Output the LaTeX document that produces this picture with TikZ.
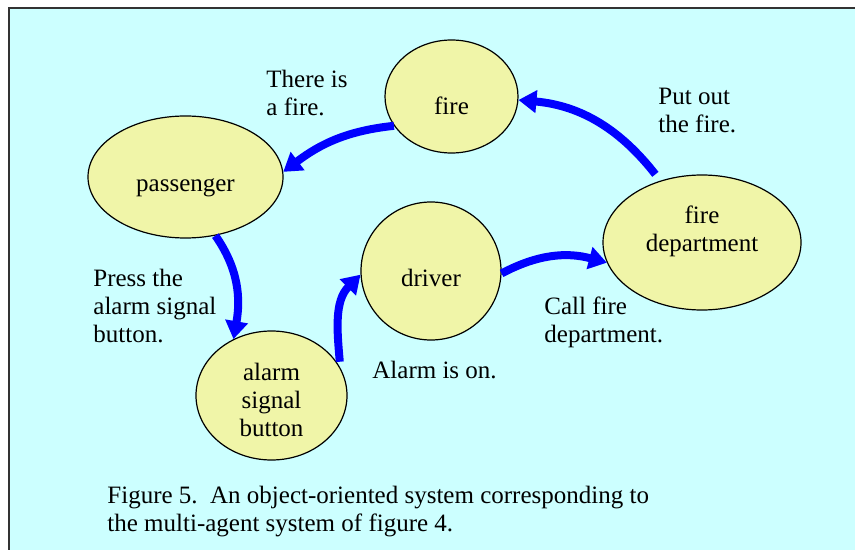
\documentclass[tikz,border=0pt]{standalone}
\usepackage{fontspec}
\setmainfont{Liberation Serif}
\usepackage{xcolor}
\definecolor{PaleCyan}{RGB}{204,255,255}
\definecolor{PaleYellow}{RGB}{240,245,168}
\definecolor{MsgBlue}{RGB}{0,0,255}
\usetikzlibrary{positioning,arrows.meta,shapes.geometric}

\begin{document}
\begin{tikzpicture}[
    x=0.5pt, y=-0.5pt,
    obj/.style={ellipse, draw=black, line width=0.6pt, fill=PaleYellow,
              inner sep=0pt, align=center, font=\fontsize{12.5}{14}\selectfont},
    lbl/.style={inner sep=0pt, align=left, anchor=west, font=\fontsize{12.5}{14}\selectfont},
    a/.style={-{Triangle[length=9pt, width=11pt]}, line width=4pt, draw=MsgBlue}
]
    \useasboundingbox (0,0) rectangle (855,550);
    \clip (0,0) rectangle (855,550);
    \draw[fill=PaleCyan, draw=black!80, line width=1pt] (9,8) rectangle (870,570);

    % objects
    \node[obj, minimum width=66.5pt, minimum height=56.5pt, text height=18pt] (fire) at (451.5,96.5) {fire};
    \node[obj, minimum width=97.5pt, minimum height=61pt, text height=17.3pt] (pass) at (185.5,177) {passenger};
    \node[obj, minimum width=70pt, minimum height=69pt, text height=15.5pt] (drv) at (431,271) {driver};
    \node[obj, minimum width=99pt, minimum height=67.5pt, text depth=14pt] (dept) at (702,242.5) {fire\\ department};
    \node[obj, minimum width=75.5pt, minimum height=64.5pt] (alarm) at (271.5,395.5) {\rule{0pt}{13pt}alarm\\ signal\\ button};

    % messages
    \draw[a] (fire.207) to[out=186, in=37] (pass.3);
    \draw[a] (pass.297) to[out=-55, in=80] (alarm.124);
    \draw[a, shorten <=3pt] (alarm.22) to[out=95, in=225] (drv.183);
    \draw[a] (drv.358) to[out=28, in=165] (dept.192);
    \draw[a, shorten <=4pt] (dept.124) to[out=128, in=-5] (fire.357);

    % labels
    \node[lbl] (lfire) at (266,93) {There is\\ a fire.};
    \node[lbl] (lput) at (658,110) {Put out\\ the fire.};
    \node[lbl] (lpress) at (93,306) {Press the\\ alarm signal\\ button.};
    \node[lbl] (lcall) at (544,322) {Call fire\\ department.};
    \node[lbl] (lon) at (372,370) {Alarm is on.};
    \node[lbl] (cap) at (107,512) {Figure 5.\ \ An object-oriented system corresponding to\\ the multi-agent system of figure 4.};
\end{tikzpicture}
\end{document}
